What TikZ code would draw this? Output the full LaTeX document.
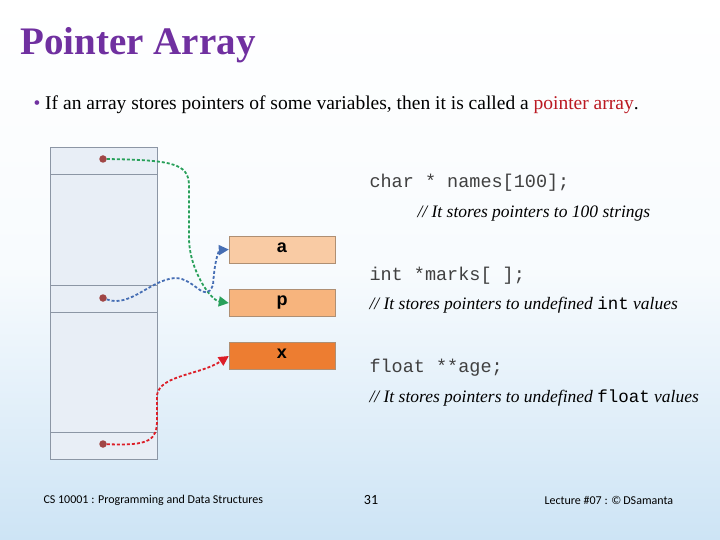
\documentclass[tikz,border=0pt]{standalone}
\usepackage{fontspec}
\setmainfont{Liberation Serif}
\setmonofont{Liberation Mono}
\newfontfamily\carfont{Carlito}
\newfontfamily\arlfont{Liberation Sans}
\usetikzlibrary{arrows.meta}
\definecolor{ttl}{RGB}{112,48,160}
\definecolor{bgb}{RGB}{205,228,245}
\definecolor{celf}{RGB}{232,238,246}
\definecolor{celd}{RGB}{140,150,165}
\definecolor{boxa}{RGB}{249,203,164}
\definecolor{boxp}{RGB}{247,180,125}
\definecolor{boxx}{RGB}{237,125,49}
\definecolor{gr}{RGB}{40,160,90}
\definecolor{bl}{RGB}{70,110,180}
\definecolor{rd}{RGB}{220,30,40}
\definecolor{dotc}{RGB}{160,70,70}
\begin{document}
\begin{tikzpicture}[x=1pt,y=-1pt,
 cell/.style={draw=celd,fill=celf,line width=0.6pt},
 var/.style={draw=celd!70!orange,minimum width=106pt,minimum height=27pt,inner sep=0,font=\arlfont\bfseries\fontsize{18}{18}\selectfont},
 ptr/.style={line width=1.8pt,dash pattern=on 3pt off 2pt,-{Triangle[length=10pt,width=10pt]}},
 dotn/.style={circle,fill=dotc,inner sep=0,minimum size=7.5pt},
 code/.style={anchor=west,font=\ttfamily\fontsize{18.5}{18.5}\selectfont,text=black!75},
 cmt/.style={anchor=west,font=\itshape\fontsize{17.5}{17.5}\selectfont}]
\shade[top color=white,bottom color=bgb,middle color=white!85!bgb] (0,0) rectangle (720,540);
\useasboundingbox (0,0) rectangle (720,540);
\node[anchor=west,text=ttl,font=\bfseries\fontsize{39}{39}\selectfont] (title) at (17,45) {Pointer Array};
\node[anchor=west,font=\fontsize{19.5}{19.5}\selectfont] (intro) at (30,105) {{\color{ttl}\textbullet} If an array stores pointers of some variables, then it is called a {\color{rd!85!black}pointer array}.};
\node[cell,minimum width=107pt,minimum height=312pt,inner sep=0] (arr) at (103.5,303) {};
\draw[draw=celd] (50,174) -- (157,174) (50,285) -- (157,285) (50,312) -- (157,312) (50,432) -- (157,432);
\node[var,fill=boxa] (a) at (282,249.5) {\vphantom{p}a};
\node[var,fill=boxp] (p) at (282,303) {\vphantom{a}p};
\node[var,fill=boxx] (x) at (282,356) {\vphantom{p}x};
\node[dotn] (d1) at (103,159) {};
\node[dotn] (d2) at (103,298) {};
\node[dotn] (d3) at (103,444) {};
\draw[ptr,gr] (d1) .. controls (180,160) and (190,165) .. (189,190) -- (189,240) .. controls (190,270) and (210,300) .. (p.west);
\draw[ptr,bl] (d2) .. controls (130,308) and (150,280) .. (175,278) .. controls (195,278) and (205,305) .. (213,285) .. controls (215,255) and (220,250) .. (a.west);
\draw[ptr,rd] (d3) .. controls (150,446) and (157,440) .. (157,420) -- (157,395) .. controls (160,375) and (200,375) .. (x.west);
\node[code] (c1) at (366,183) {char * names[100];};
\node[cmt] (m1) at (414,214) {// It stores pointers to 100 strings};
\node[code] (c2) at (366,276) {int *marks[ ];};
\node[cmt] (m2) at (366,305) {// It stores pointers to undefined {\upshape\ttfamily int} values};
\node[code] (c3) at (366,368) {float **age;};
\node[cmt] (m3) at (366,398) {// It stores pointers to undefined {\upshape\ttfamily float} values};
\node[anchor=west,font=\carfont\fontsize{12}{12}\selectfont] (f1) at (40,500) {CS 10001 : Programming and Data Structures};
\node[font=\carfont\fontsize{14}{14}\selectfont] (f2) at (371,500) {31};
\node[anchor=west,font=\carfont\fontsize{12}{12}\selectfont] (f3) at (541,500) {Lecture \#07 : \textcopyright\,DSamanta};
\end{tikzpicture}
\end{document}
